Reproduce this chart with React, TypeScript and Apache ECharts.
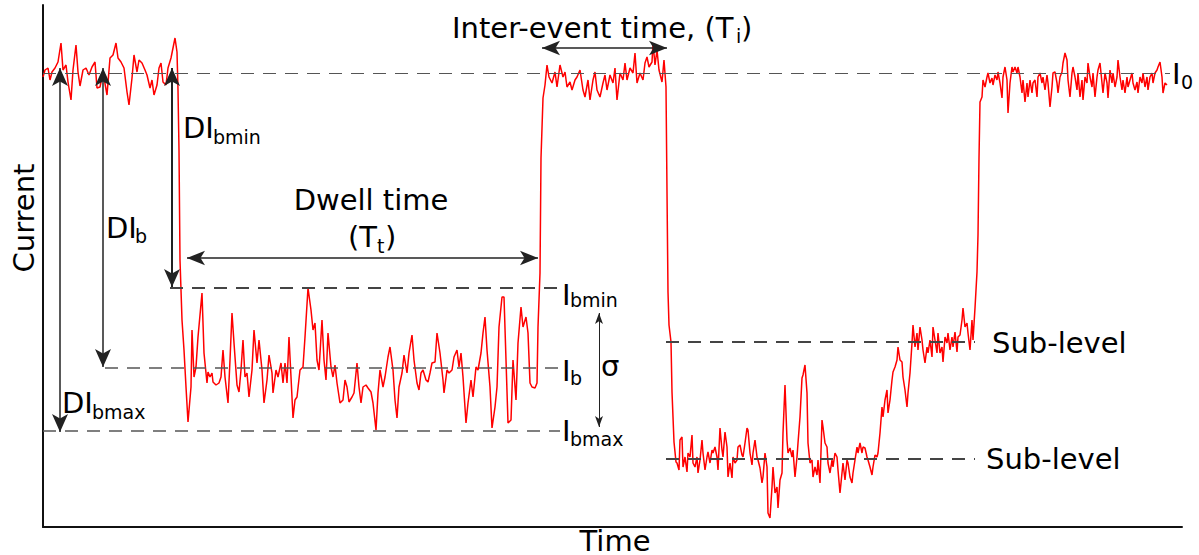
import React, { useEffect, useRef } from "react";
import * as echarts from "echarts";

// ---- Current trace, [time, current] in arbitrary units ----
const openLevel1: number[][] = [
  [3,523],[5,530],[8,532],[10,520],[12,528],[15,532],[18,538],[21,557],[23,530],[26,535],[28,518],[31,500],[33,530],[36,555],[38,528],[40,514],[43,530],[46,532],[49,525],[52,533],[55,538],[57,512],[60,513],[63,528],[67,505],[70,542],[73,545],[76,557],[78,542],[81,538],[84,532],[87,508],[89,495],[92,522],[94,545],[97,528],[99,540],[102,537],[105,530],[107,525],[110,512],[112,520],[114,505],[117,515],[119,532],[121,537],[123,518],[126,515],[128,532],[131,542],[133,552],[135,562],[137,548],[138,510]
];

const event1: number[][] = [
  [139,450],[140,340],[142,280],[144,250],[146,213],[148,178],[151,213],[152,270],[154,223],[156,233],[158,263],[162,307],[164,247],[167,217],[168,228],[170,223],[172,227],[173,218],[176,215],[179,217],[181,223],[183,250],[185,223],[188,197],[190,240],[192,287],[194,257],[197,215],[199,208],[201,230],[203,260],[205,223],[207,227],[209,203],[212,230],[214,270],[217,237],[219,260],[222,230],[224,197],[227,220],[229,245],[232,227],[233,207],[236,230],[238,223],[241,237],[243,217],[245,237],[247,217],[249,263],[251,223],[253,182],[255,200],[257,203],[260,230],[263,233],[265,263],[268,312],[271,290],[273,270],[275,277],[277,240],[279,230],[282,280],[284,240],[286,220],[288,267],[291,233],[293,223],[295,235],[297,217],[300,197],[303,200],[305,220],[307,213],[309,198],[312,203],[314,207],[317,237],[319,213],[321,197],[323,213],[326,215],[328,212],[331,208],[333,197],[336,170],[338,207],[340,230],[343,213],[345,223],[348,243],[350,253],[353,230],[355,200],[357,182],[359,213],[362,227],[364,245],[367,227],[369,247],[372,265],[374,240],[377,217],[379,210],[381,227],[383,230],[386,220],[388,218],[390,227],[392,237],[395,238],[397,267],[400,247],[403,220],[404,207],[407,230],[409,227],[412,230],[414,243],[417,250],[419,233],[421,247],[423,223],[426,177],[428,197],[431,220],[433,203],[436,233],[438,230],[441,247],[443,267],[445,283],[447,250],[450,213],[452,172],[455,193],[457,213],[459,273],[462,303],[464,303],[466,240],[468,177],[471,180],[473,240],[476,200],[478,257],[481,293],[483,273],[486,283],[488,267],[490,217],[492,213],[495,212],[497,217],[498,273],[500,327],[501,442],[503,502],[505,515]
];

const openLevel2: number[][] = [
  [507,535],[509,523],[512,517],[515,528],[517,513],[520,535],[523,523],[525,528],[527,513],[530,518],[532,510],[535,520],[537,523],[540,530],[543,510],[545,503],[548,520],[550,500],[553,520],[555,528],[557,510],[560,503],[563,517],[565,525],[567,510],[570,525],[573,517],[575,532],[577,500],[580,527],[583,520],[585,537],[587,520],[590,532],[593,527],[595,547],[597,517],[600,527],[603,520],[605,537],[607,543],[609,533],[612,538],[613,557],[615,535],[617,550],[619,530],[622,518],[624,540],[626,513]
];

const event2: number[][] = [
  [627,408],[628,308],[629,275],[631,258],[632,208],[634,158],[636,138],
  [637,137],[639,130],[640,160],[642,163],[643,133],[645,143],[647,128],[648,147],[650,143],[652,165],[653,137],[655,133],[657,143],[658,127],[660,140],[662,160],[663,147],[665,130],[667,143],[668,148],[670,137],[672,150],[673,147],[675,153],[677,143],[678,130],[680,172],[682,150],[683,143],[685,168],[687,153],[688,123],[690,137],[692,122],[693,143],[695,137],[697,140],[698,153],[700,155],[702,145],[703,143],[705,157],[707,172],[708,170],[710,147],[712,135],[713,147],[715,160],[717,143],[718,140],[720,132],[722,117],[723,123],[725,147],[727,133],[728,87],[730,82],[732,113],[733,133],[735,107],[737,113],[738,92],[740,120],[742,127],[743,167],[745,215],[747,160],[748,147],[750,152],[752,143],[753,150],[755,123],[757,143],[758,157],[760,183],[762,222],[763,225],[765,235],[767,207],[768,157],[770,137],[772,140],[773,123],[775,133],[777,125],[778,140],[780,117],[782,180],[783,173],[785,157],[787,153],[788,137],[790,127],[792,140],[793,133],[795,147],[797,143],[798,130],[800,107],[802,127],[803,137],[805,120],[807,140],[808,137],[810,123],[812,117],[813,127],[815,140],[817,153],[818,147],[820,157],[822,147],[823,153],[825,152],[827,143],[828,140],[830,133],[832,125],[833,133],[835,145],[837,143],[838,147],[840,167],[842,193],[843,183],[845,200],[847,210],[848,187],[850,200],[852,220],[853,228],[855,233],[857,240],[858,253],[860,240],[862,238],[863,223],[865,210],[867,193],[868,207],[870,227],[872,257],[873,275],[875,253],[877,267],[878,250],[880,273],[882,260],[883,250],[885,237],[887,253],[888,247],[890,260],[892,243],[893,273],[895,260],[897,247],[898,267],[900,247],[902,253],[903,238],[905,263],[907,257],[908,267],[910,250],[912,263],[913,253],[915,268],[917,248],[918,263],[920,265],[922,280],[923,292],[925,273],[927,277],[928,267],[930,250],[932,280],[933,260],
  [935,292],[937,328],[938,365],[939,442],[940,498],[942,503]
];

const openLevel3: number[][] = [
  [943,520],[945,513],[947,523],[948,527],[950,517],[952,522],[953,515],[955,525],[957,520],[958,528],[960,517],[962,502],[963,523],[965,533],[967,520],[968,487],[970,517],[972,533],[973,528],[975,533],[977,527],[978,533],[980,523],[982,507],[983,520],[985,498],[987,517],[988,503],[990,520],[992,507],[993,517],[995,520],[997,503],[998,523],[1000,527],[1002,517],[1003,523],[1005,510],[1007,525],[1008,517],[1010,493],[1012,513],[1013,527],[1015,528],[1017,517],[1018,507],[1020,523],[1022,528],[1023,537],[1025,547],[1027,540],[1028,520],[1030,503],[1032,527],[1033,533],[1035,523],[1037,510],[1038,527],[1040,503],[1042,520],[1043,500],[1045,523],[1047,517],[1048,537],[1050,523],[1052,513],[1053,527],[1055,503],[1057,523],[1058,530],[1060,537],[1062,517],[1063,507],[1065,527],[1067,517],[1068,502],[1070,530],[1072,517],[1073,527],[1075,513],[1077,523],[1078,540],[1080,523],[1082,510],[1083,520],[1085,507],[1087,523],[1088,513],[1090,520],[1092,527],[1093,517],[1095,510],[1097,518],[1098,507],[1100,523],[1102,517],[1103,527],[1105,513],[1107,523],[1108,510],[1110,523],[1112,527],[1113,517],[1115,527],[1117,530],[1118,533],[1120,538],[1122,523],[1123,507],[1125,517],[1127,515]
];

// ---- Current levels ----
const I0 = 527;
const I_BMIN = 312;
const I_B = 232;
const I_BMAX = 169;
const SUB_LEVEL_1 = 258;
const SUB_LEVEL_2 = 141;

// ---- Time range ----
const T_START = 3;
const T_END = 1142;

const FONT = '"DejaVu Sans", "Noto Sans", sans-serif';
const MAIN = 29;
const SUB = 19;

function levelLine(level: number, from: number, to: number, width: number, color: string) {
  return [
    { coord: [from, level], lineStyle: { width, color, type: [13, 9] } },
    { coord: [to, level] },
  ];
}

// double-headed arrow between two tip positions
function arrow(a: number[], b: number[], w: number, l: number, width: number) {
  return [
    {
      coord: a,
      symbol: "arrow",
      symbolSize: [w, l],
      lineStyle: { width, color: "#222", type: "solid" },
    },
    { coord: b, symbol: "arrow", symbolSize: [w, l] },
  ];
}

function txt(text: string, x: number, baseline: number, size: number, align = "left") {
  return {
    type: "text",
    x,
    y: baseline - 0.32 * size,
    silent: true,
    style: { text, fontSize: size, fontFamily: FONT, fill: "#000", align, verticalAlign: "middle" },
  };
}

export default function App() {
  const ref = useRef<HTMLDivElement>(null);
  useEffect(() => {
    if (!ref.current) return;
    const chart = echarts.init(ref.current, undefined, { renderer: "svg" });
    const trace = [...openLevel1, ...event1, ...openLevel2, ...event2, ...openLevel3];
    const axisCommon = {
      type: "value" as const,
      axisLabel: { show: false },
      axisTick: { show: false },
      splitLine: { show: false },
      axisLine: { show: true, onZero: false, lineStyle: { color: "#111", width: 2 } },
    };
    chart.setOption({
      animation: false,
      grid: { left: 43, right: 17, top: 5, bottom: 28, containLabel: false },
      xAxis: { ...axisCommon, min: T_START, max: T_END },
      yAxis: { ...axisCommon, min: 73, max: 595 },
      series: [
        {
          type: "line",
          name: "Current",
          data: trace,
          showSymbol: false,
          symbol: "none",
          silent: true,
          lineStyle: { color: "#ff0000", width: 1.5 },
        },
        {
          type: "line",
          name: "levels",
          data: [],
          silent: true,
          markLine: {
            silent: true,
            symbol: ["none", "none"],
            label: { show: false },
            emphasis: { disabled: true },
            data: [
              levelLine(I0, 3, 1130, 1.2, "#555"),
              levelLine(I_BMIN, 130, 518, 2, "#444"),
              levelLine(I_B, 65, 520, 1.5, "#555"),
              levelLine(I_BMAX, 3, 520, 1.5, "#555"),
              levelLine(SUB_LEVEL_1, 626, 935, 2, "#444"),
              levelLine(SUB_LEVEL_2, 626, 935, 2, "#444"),
            ],
          },
        },
        {
          type: "line",
          name: "arrows",
          data: [],
          silent: true,
          markLine: {
            silent: true,
            label: { show: false },
            emphasis: { disabled: true },
            data: [
              arrow([20, I0 + 5], [20, I_BMAX - 1], 12, 18, 1.5),
              arrow([63, I0 + 5], [63, I_B + 1], 12, 18, 1.5),
              arrow([132, I0 + 5], [132, I_BMIN + 1], 12, 18, 2),
              arrow([147, 342], [498, 342], 11, 18, 1.5),
              arrow([502, 552], [627, 552], 11, 18, 1.5),
              arrow([559, 287], [559, 173], 6, 11, 1),
            ],
          },
        },
      ],
      graphic: [
        {
          type: "text",
          x: 24,
          y: 218,
          rotation: Math.PI / 2,
          silent: true,
          style: { text: "Current", fontSize: MAIN, fontFamily: FONT, fill: "#000", align: "center", verticalAlign: "middle" },
        },
        txt("Time", 615, 550, MAIN, "center"),
        txt("DI", 183, 137, MAIN),
        txt("bmin", 213, 143, SUB),
        txt("DI", 106, 237, MAIN),
        txt("b", 135, 242, SUB),
        txt("DI", 62, 412, MAIN),
        txt("bmax", 92, 418, SUB),
        txt("Dwell time", 371, 209, MAIN, "center"),
        txt("(T", 348, 246, MAIN),
        txt("t", 377, 252, SUB),
        txt(")", 385, 246, MAIN),
        txt("Inter-event time, (T", 452, 37, MAIN),
        txt("i", 736, 42, SUB),
        txt(")", 741, 37, MAIN),
        txt("I", 562, 304, MAIN),
        txt("bmin", 570, 306, SUB),
        txt("I", 562, 380, MAIN),
        txt("b", 570, 384, SUB),
        txt("σ", 601, 375, MAIN),
        txt("I", 562, 440, MAIN),
        txt("bmax", 570, 445, SUB),
        txt("I", 1172, 83, MAIN),
        txt("0", 1181, 88, SUB),
        txt("Sub-level", 992, 352, MAIN),
        txt("Sub-level", 986, 468, MAIN),
      ],
    });
    return () => chart.dispose();
  }, []);
  return (
    <div
      ref={ref}
      style={{ position: "fixed", left: 0, top: 0, width: 1199, height: 555, background: "#fff" }}
    />
  );
}
